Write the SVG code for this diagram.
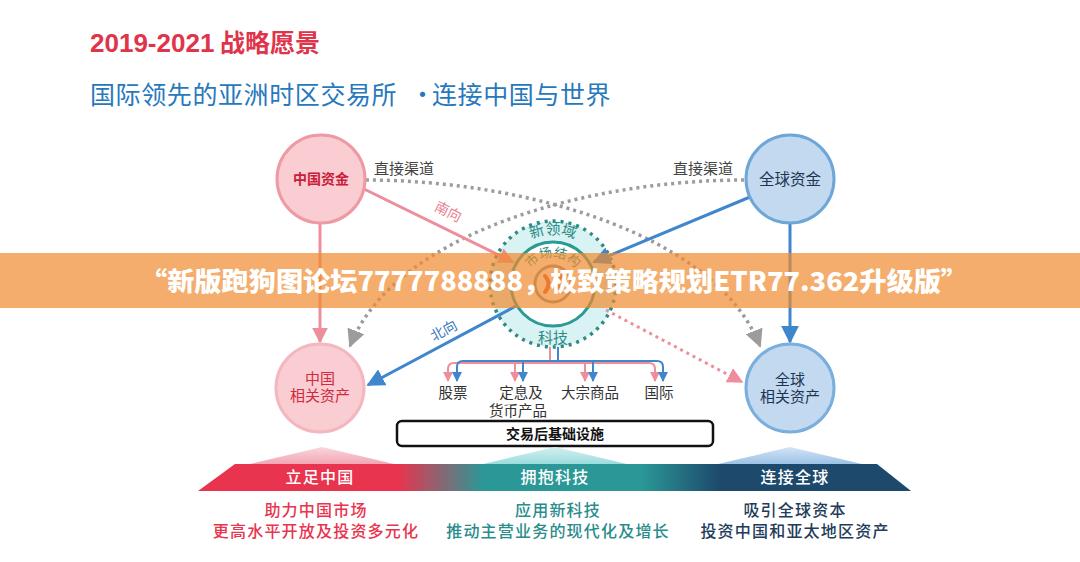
<svg xmlns="http://www.w3.org/2000/svg" width="1080" height="562" viewBox="0 0 1080 562">
<style>
.cjk{font-family:"Noto Sans CJK SC","Noto Sans",sans-serif}
.lbl{font-family:"Noto Sans CJK SC",sans-serif;font-size:15px;fill:#444}
.node-txt{font-family:"Noto Sans CJK SC",sans-serif;text-anchor:middle}
.br{font-family:"Noto Sans CJK SC",sans-serif;font-size:14.5px;fill:#333;text-anchor:middle}
.sub{font-family:"Noto Sans CJK SC",sans-serif;font-size:16px;text-anchor:middle;letter-spacing:1.2px;font-weight:500}
.band{font-family:"Noto Sans CJK SC",sans-serif;font-size:16px;fill:#fff;text-anchor:middle;letter-spacing:1.2px;font-weight:500}
.dot-gray{fill:none;stroke:#9C9C9C;stroke-width:3.5;stroke-dasharray:3 4}
</style>
<defs>
<marker id="ah-pink" viewBox="0 0 10 10" refX="9" refY="5" markerWidth="16" markerHeight="16" markerUnits="userSpaceOnUse" orient="auto"><path d="M0,0 L10,5 L0,10 z" fill="#EE8E9C"/></marker>
<marker id="ah-blue" viewBox="0 0 10 10" refX="9" refY="5" markerWidth="18" markerHeight="18" markerUnits="userSpaceOnUse" orient="auto"><path d="M0,0 L10,5 L0,10 z" fill="#3F86CC"/></marker>
<marker id="ah-gray" viewBox="0 0 10 10" refX="9" refY="5" markerWidth="18" markerHeight="18" markerUnits="userSpaceOnUse" orient="auto"><path d="M0,0 L10,5 L0,10 z" fill="#9C9C9C"/></marker>
<marker id="sh-pink" viewBox="0 0 10 10" refX="9" refY="5" markerWidth="10" markerHeight="10" markerUnits="userSpaceOnUse" orient="auto"><path d="M0,0 L10,5 L0,10 z" fill="#EE8E9C"/></marker>
<marker id="sh-blue" viewBox="0 0 10 10" refX="9" refY="5" markerWidth="10" markerHeight="10" markerUnits="userSpaceOnUse" orient="auto"><path d="M0,0 L10,5 L0,10 z" fill="#3F86CC"/></marker>
<linearGradient id="bandGrad" gradientUnits="userSpaceOnUse" x1="198" y1="0" x2="912" y2="0">
<stop offset="0" stop-color="#E8344E"/>
<stop offset="0.28" stop-color="#E8344E"/>
<stop offset="0.40" stop-color="#2B9897"/>
<stop offset="0.62" stop-color="#2B9897"/>
<stop offset="0.73" stop-color="#1D4A6C"/>
<stop offset="1" stop-color="#1D4A6C"/>
</linearGradient>
<linearGradient id="triPink" x1="0" y1="1" x2="0" y2="0"><stop offset="0" stop-color="#F2A7B3"/><stop offset="1" stop-color="#F9D6DC"/></linearGradient>
<linearGradient id="triTeal" x1="0" y1="1" x2="0" y2="0"><stop offset="0" stop-color="#9CDCDD"/><stop offset="1" stop-color="#D3F0F1"/></linearGradient>
<linearGradient id="triBlue" x1="0" y1="1" x2="0" y2="0"><stop offset="0" stop-color="#9CC2E6"/><stop offset="1" stop-color="#D3E5F5"/></linearGradient>
<path id="arcNew" d="M503,284 A50,50 0 0 1 603,284"/>
<path id="arcMkt" d="M526,284 A27,27 0 0 1 580,284"/>
</defs>

<rect width="1080" height="562" fill="#ffffff"/>

<g id="title">
<text x="90" y="52" font-family="'Liberation Sans','Noto Sans CJK SC',sans-serif" font-size="26" font-weight="bold" fill="#E0344A">2019-2021<tspan x="220" font-family="'Noto Sans CJK SC',sans-serif" font-size="25" font-weight="bold">战略愿景</tspan></text>
<text class="cjk" x="90" y="104" font-size="25" fill="#2878BD" letter-spacing="0.6">国际领先的亚洲时区交易所<tspan x="410" letter-spacing="0">·</tspan><tspan x="432">连接中国与世界</tspan></text>
</g>

<g id="center-core">
<circle cx="553" cy="284" r="63" fill="#D9F2F4" stroke="#2D8B82" stroke-width="3.5" stroke-dasharray="3 5"/>
<circle cx="553" cy="284" r="42" fill="#ffffff" stroke="#2A9A95" stroke-width="3"/>
<circle cx="553" cy="284" r="18" fill="#ffffff" stroke="#8A8A8A" stroke-width="3"/>
<path d="M545,276 Q552,284 545,292 M561,276 Q554,284 561,292" fill="none" stroke="#E8502A" stroke-width="4" stroke-linecap="round"/>
<text class="cjk" font-size="15" fill="#2A8C86"><textPath href="#arcNew" startOffset="50%" text-anchor="middle">新领域</textPath></text>
<text class="cjk" font-size="13" fill="#2A8C86"><textPath href="#arcMkt" startOffset="50%" text-anchor="middle">市场结构</textPath></text>
<text class="cjk" x="553" y="343" font-size="15" fill="#2A8C86" text-anchor="middle">科技</text>
</g>

<g id="connectors">
<path class="dot-gray" d="M366,180 C520,180 715,232 760,346" marker-end="url(#ah-gray)"/>
<path class="dot-gray" d="M744,180 C590,180 395,232 350,346" marker-end="url(#ah-gray)"/>
<line x1="320" y1="224" x2="320" y2="342" stroke="#EE8E9C" stroke-width="3" marker-end="url(#ah-pink)"/>
<line x1="790" y1="224" x2="790" y2="342" stroke="#3F86CC" stroke-width="3" marker-end="url(#ah-blue)"/>
<line x1="362" y1="188" x2="513" y2="262" stroke="#EE8E9C" stroke-width="3" marker-end="url(#ah-pink)"/>
<line x1="750" y1="197" x2="594" y2="262" stroke="#3F86CC" stroke-width="3" marker-end="url(#ah-blue)"/>
<line x1="516" y1="306" x2="368" y2="385" stroke="#3F86CC" stroke-width="3" marker-end="url(#ah-blue)"/>
<line x1="606" y1="310" x2="742" y2="382" stroke="#EE8E9C" stroke-width="3" stroke-dasharray="3 4" marker-end="url(#ah-pink)"/>
<text class="cjk" font-size="14" fill="#E8808F" transform="translate(446,216) rotate(27)" text-anchor="middle">南向</text>
<text class="cjk" font-size="14" fill="#3A7CC0" transform="translate(446,335) rotate(-28)" text-anchor="middle">北向</text>
<text class="lbl" x="404" y="174" text-anchor="middle">直接渠道</text>
<text class="lbl" x="703" y="174" text-anchor="middle">直接渠道</text>
<g fill="none" stroke-width="2">
<path d="M550,347 V363" stroke="#EE8E9C"/>
<path d="M448,381 V369 Q448,363 454,363 H649 Q655,363 655,369 V381" stroke="#EE8E9C" marker-end="url(#sh-pink)"/>
<path d="M448,370 V381" stroke="#EE8E9C" marker-end="url(#sh-pink)"/>
<path d="M515,363 V381" stroke="#EE8E9C" marker-end="url(#sh-pink)"/>
<path d="M585,363 V381" stroke="#EE8E9C" marker-end="url(#sh-pink)"/>
<path d="M558,347 V361" stroke="#3F86CC"/>
<path d="M457,381 V367 Q457,361 463,361 H657 Q663,361 663,367 V381" stroke="#3F86CC" marker-end="url(#sh-blue)"/>
<path d="M457,370 V381" stroke="#3F86CC" marker-end="url(#sh-blue)"/>
<path d="M523,361 V381" stroke="#3F86CC" marker-end="url(#sh-blue)"/>
<path d="M593,361 V381" stroke="#3F86CC" marker-end="url(#sh-blue)"/>
</g>
</g>

<g id="node-cn-fund">
<circle cx="321" cy="179" r="44" fill="#F9CDD2" stroke="#EE9AA5" stroke-width="3"/>
<text class="node-txt" x="321" y="184" font-size="14" font-weight="bold" fill="#C8203A">中国资金</text>
</g>
<g id="node-gl-fund">
<circle cx="790" cy="179" r="44" fill="#C2D9F0" stroke="#6FA6D8" stroke-width="3"/>
<text class="node-txt" x="790" y="185" font-size="15.5" fill="#1E3550">全球资金</text>
</g>
<g id="node-cn-asset">
<circle cx="320" cy="388" r="44" fill="#F9CDD2" stroke="#F4B7BF" stroke-width="3"/>
<text class="node-txt" font-size="15" fill="#D02A40"><tspan x="320" y="384">中国</tspan><tspan x="320" y="401">相关资产</tspan></text>
</g>
<g id="node-gl-asset">
<circle cx="790" cy="388" r="44" fill="#C2D9F0" stroke="#7AAEDC" stroke-width="3"/>
<text class="node-txt" font-size="15" fill="#1E3550"><tspan x="790" y="385">全球</tspan><tspan x="790" y="402">相关资产</tspan></text>
</g>

<g id="products">
<text class="br" x="453" y="398">股票</text>
<text class="br"><tspan x="521" y="398">定息及</tspan><tspan x="518" y="416">货币产品</tspan></text>
<text class="br" x="590" y="398">大宗商品</text>
<text class="br" x="659" y="398">国际</text>
</g>

<g id="node-post-trade">
<rect x="397" y="421" width="316" height="25" rx="5" fill="#ffffff" stroke="#111" stroke-width="2.5"/>
<text class="node-txt" x="555" y="439" font-size="14" font-weight="bold" fill="#111">交易后基础设施</text>
</g>

<g id="pillars">
<polygon points="250,464 322,447 394,464" fill="url(#triPink)"/>
<polygon points="483,464 555,447 627,464" fill="url(#triTeal)"/>
<polygon points="718,464 790,447 862,464" fill="url(#triBlue)"/>
<polygon points="198,491 235,464 877,464 911,491" fill="url(#bandGrad)"/>
<text class="band" x="320" y="483">立足中国</text>
<text class="band" x="555" y="483">拥抱科技</text>
<text class="band" x="795" y="483">连接全球</text>
<text class="sub" fill="#E8344E"><tspan x="316" y="516">助力中国市场</tspan><tspan x="316" y="537">更高水平开放及投资多元化</tspan></text>
<text class="sub" fill="#2A8C8C"><tspan x="558" y="516">应用新科技</tspan><tspan x="558" y="537">推动主营业务的现代化及增长</tspan></text>
<text class="sub" fill="#1F3D5A"><tspan x="795" y="516">吸引全球资本</tspan><tspan x="795" y="537">投资中国和亚太地区资产</tspan></text>
</g>

<g id="banner">
<rect x="0" y="253" width="1080" height="55" fill="#F08A2E" fill-opacity="0.7"/>
<text x="554" y="291" font-family="'Noto Sans CJK SC',sans-serif" font-size="26" font-weight="900" fill="#ffffff" text-anchor="middle" textLength="828" lengthAdjust="spacingAndGlyphs">“新版跑狗图论坛7777788888，极致策略规划ETR77.362升级版”</text>
</g>
</svg>
